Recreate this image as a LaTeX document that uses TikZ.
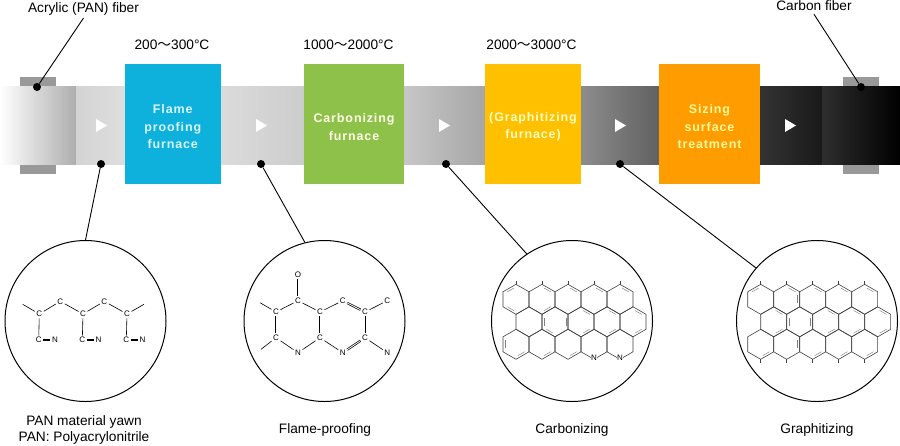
\documentclass[tikz,border=0pt]{standalone}
\usepackage{fontspec}
\setmainfont{Liberation Sans}
\newfontfamily\cjk{Noto Sans CJK SC}
\newfontfamily\boxfont[LetterSpace=7]{Liberation Sans Bold}
\usepackage{xcolor}
\usetikzlibrary{positioning}
\definecolor{flameblue}{HTML}{0DB1DC}
\definecolor{carbgreen}{HTML}{8DC149}
\definecolor{graphyellow}{HTML}{FFC000}
\definecolor{sizeorange}{HTML}{FF9C00}
\newcommand{\temprange}[2]{#1{\cjk ～}#2°C}
\newcommand{\hexgrid}{%
  \foreach \r in {0,1,2}{
    \foreach \c in {0,...,4}{
      \pgfmathsetmacro{\cx}{26*\c+13*mod(\r,2)}
      \pgfmathsetmacro{\cy}{22.5*\r}
      \draw[bondline,shift={(\cx,\cy)}] (30:15) -- (90:15) -- (150:15) -- (210:15) -- (270:15) -- (330:15) -- cycle;
    }
  }
}
\newcommand{\innerbond}[3]{%
  \pgfmathsetmacro{\cx}{26*#1+13*mod(#2,2)}
  \pgfmathsetmacro{\cy}{22.5*#2}
  \draw[innerline,shift={(\cx,\cy)}] (#3+10:11.5) -- (#3+50:11.5);
}
\begin{document}
\begin{tikzpicture}[
  x=1pt,y=-1pt,
  every node/.style={font=\fontsize{13.7}{16}\selectfont,align=center,inner sep=1pt},
  furnace/.style={minimum height=120pt},
  furnacetext/.style={font=\boxfont\fontsize{12.5}{17.5}\selectfont},
  clamp/.style={fill=black!40,draw=none},
  blackdot/.style={circle,fill=black,minimum size=8pt,inner sep=0pt},
  ringnode/.style={circle,draw,line width=1pt,minimum size=161pt,inner sep=0pt},
  leader/.style={line width=0.9pt},
  atom/.style={font=\fontsize{8}{8}\selectfont,inner sep=1.4pt},
  bond/.style={line width=0.6pt},
  dbl/.style={line width=0.7pt,double,double distance=0.8pt},
  bondline/.style={line width=0.6pt,black!75},
  innerline/.style={line width=0.45pt,black!50}]
\useasboundingbox (0,0) rectangle (900,445);

\fill[clamp] (20,77) rectangle (56,86);
\fill[clamp] (20,165) rectangle (56,174);
\fill[clamp] (843,77) rectangle (879,86);
\fill[clamp] (843,165) rectangle (879,174);

\shade[left color=white,middle color=black!7,right color=black!32] (0,86) rectangle (76,164);
\shade[left color=black!17,right color=black!13] (76,86) rectangle (125,164);
\shade[left color=black!14,right color=black!20] (221,86) rectangle (304,164);
\shade[left color=black!22,right color=black!35] (404,86) rectangle (485,164);
\shade[left color=black!45,right color=black!62] (581,86) rectangle (659,164);
\shade[left color=black!80,right color=black!90] (760,86) rectangle (822,164);
\shade[left color=black!82,right color=black] (822,86) rectangle (900,164);

\foreach \ax in {96,256,439,615,785}
  \fill[white] (\ax,119) -- (\ax,132) -- (\ax+11,125.5) -- cycle;

\node[furnace,fill=flameblue,minimum width=96.5pt] (flame) at (172.75,124) {};
\node[furnace,fill=carbgreen,minimum width=100pt] (carbon) at (354,124) {};
\node[furnace,fill=graphyellow,minimum width=96pt] (graph) at (533,124) {};
\node[furnace,fill=sizeorange,minimum width=101pt] (sizing) at (709.5,124) {};
\node[furnacetext,text=cyan!15] (flametext) at ([yshift=-3pt]flame) {Flame\\proofing\\furnace};
\node[furnacetext,text=yellow!10] (carbontext) at ([yshift=-3pt]carbon) {Carbonizing\\furnace};
\node[furnacetext,text=yellow!25] (graphtext) at ([yshift=-3pt]graph) {(Graphitizing\\furnace)};
\node[furnacetext,text=yellow!40] (sizingtext) at ([yshift=-3pt]sizing) {Sizing\\surface\\treatment};

\node (temp1) at (172,45) {\temprange{200}{300}};
\node (temp2) at (348.5,45) {\temprange{1000}{2000}};
\node (temp3) at (531.5,45) {\temprange{2000}{3000}};

\node[inner sep=3pt] (acrylic) at (83.5,8.5) {Acrylic (PAN) fiber};
\node[inner sep=3pt] (carbonfiber) at (814,6) {Carbon fiber};

\node[blackdot] (dot1) at (37,87) {};
\node[blackdot] (dot2) at (101,164) {};
\node[blackdot] (dot3) at (261,164) {};
\node[blackdot] (dot4) at (446,164) {};
\node[blackdot] (dot5) at (620,164) {};
\node[blackdot] (dot6) at (861,87) {};

\node[ringnode] (ring1) at (85.5,321) {};
\node[ringnode] (ring2) at (324.5,321) {};
\node[ringnode] (ring3) at (572,321) {};
\node[ringnode] (ring4) at (817,321) {};

\draw[leader] (acrylic.south) -- (dot1);
\draw[leader] (carbonfiber.south) -- (dot6);
\draw[leader] (dot2) -- (ring1.90);
\draw[leader] (dot3) -- (ring2.104);
\draw[leader] (dot4) -- (ring3.124);
\draw[leader] (dot5) -- (ring4.139);

\node (label1) at (84,430) {PAN material yawn\\PAN: Polyacrylonitrile};
\node (label2) at (325,429.5) {Flame-proofing};
\node (label3) at (572,429.5) {Carbonizing};
\node (label4) at (817,429.5) {Graphitizing};

% PAN chain
\node[atom] (a1) at (39.3,314) {C};
\node[atom] (a2) at (60.3,301.3) {C};
\node[atom] (a3) at (83,314) {C};
\node[atom] (a4) at (104.3,301.3) {C};
\node[atom] (a5) at (127,314) {C};
\coordinate (a0) at (22.7,304.3);
\coordinate (a6) at (144,304.3);
\foreach \na/\nb in {a0/a1,a1/a2,a2/a3,a3/a4,a4/a5,a5/a6}
  \draw[bond] (\na) -- (\nb);
\foreach \nc/\cx in {a1/38.7,a3/82.3,a5/126.3}{
  \node[atom] (\nc c) at (\cx,340) {C};
  \node[atom] (\nc n) at (\cx+16.2,340) {N};
  \draw[bond] (\nc) -- (\nc c);
  \draw[dbl] (\nc c) -- (\nc n);
  \draw[line width=0.5pt] (\nc c) -- (\nc n);
}

% flame-proofed ladder
\node[atom] (o1) at (298,274.3) {O};
\node[atom] (b1) at (298,300.7) {C};
\node[atom] (b2) at (276,312) {C};
\node[atom] (b3) at (320,312) {C};
\node[atom] (b4) at (342.7,300.7) {C};
\node[atom] (b5) at (365,312) {C};
\node[atom] (b6) at (387.3,300.7) {C};
\node[atom] (b7) at (276,337.7) {C};
\node[atom] (b8) at (320,337.7) {C};
\node[atom] (b9) at (365,337.7) {C};
\node[atom] (n1) at (298,352.7) {N};
\node[atom] (n2) at (342.7,352.7) {N};
\node[atom] (n3) at (387.3,352.7) {N};
\coordinate (s1) at (260,302.7);
\coordinate (s2) at (261,349.3);
\foreach \na/\nb in {s1/b2,b2/b1,b1/b3,b3/b4,b5/b6,b5/b9,b9/n3,s2/b7,b7/n1,n1/b8,b8/n2}
  \draw[bond] (\na) -- (\nb);
\foreach \na/\nb in {o1/b1,b2/b7,b3/b8,b4/b5,n2/b9}
  \draw[dbl] (\na) -- (\nb);

% carbonized sheet
\begin{scope}[shift={(516,299.3)}]
\hexgrid
\foreach \c in {0,...,4}
  \draw[bondline] (\c*26,-15) -- (\c*26,-18.5);
\foreach \c/\r/\a in {0/0/210,0/0/90,1/0/-90,1/0/30,2/0/-90,3/0/-90,4/0/-90,
    1/1/150,1/1/-30,1/1/90,2/1/-90,2/1/30,3/1/-90,3/1/30,4/1/-90,4/1/30,
    0/2/150,0/2/30,1/2/30,2/2/30}
  {\innerbond{\c}{\r}{\a}}
\node[atom,fill=white,inner sep=0.6pt] (n4) at (78,58.5) {N};
\node[atom,fill=white,inner sep=0.6pt] (n5) at (104,58.5) {N};
\end{scope}

% graphitized sheet
\begin{scope}[shift={(760.7,299.3)}]
\hexgrid
\foreach \c in {0,...,4}{
  \draw[bondline] (\c*26,-15) -- (\c*26,-18.5);
  \draw[bondline] (\c*26,60) -- (\c*26,63.5);
}
\foreach \c/\r/\a in {0/0/210,1/0/-90,1/0/-30,2/0/-90,3/0/-90,4/0/-90,
    0/1/-90,0/1/30,1/1/150,1/1/-30,2/1/-90,2/1/30,3/1/-90,3/1/30,4/1/-90,4/1/30,
    0/2/30,1/2/-30,2/2/30,3/2/30,4/2/30}
  {\innerbond{\c}{\r}{\a}}
\end{scope}
\end{tikzpicture}
\end{document}
